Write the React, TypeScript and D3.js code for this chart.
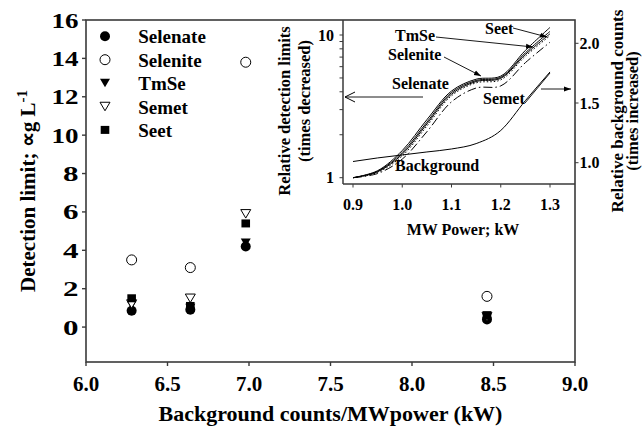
import React from "react";
import * as d3 from "d3";

// ---------- main scatter data ----------
const bgPerPower = [6.28, 6.64, 6.98, 8.46];
const selenate = [0.85, 0.9, 4.2, 0.4];
const selenite = [3.5, 3.1, 13.8, 1.6];
const tmse = [1.15, 1.0, 4.4, 0.5];
const semet = [1.2, 1.5, 5.9, 0.55];
const seet = [1.5, 1.1, 5.4, 0.62];
const xTicks = [6.0, 6.5, 7.0, 7.5, 8.0, 8.5, 9.0];
const yTicks = [0, 2, 4, 6, 8, 10, 12, 14, 16];

// ---------- inset data ----------
const mwPower = [0.9, 0.95, 1.0, 1.05, 1.1, 1.15, 1.2, 1.25, 1.3];
const relSeet = [1.0, 1.12, 1.55, 2.55, 4.05, 4.9, 5.15, 7.8, 11.3];
const relSelenite = [1.0, 1.11, 1.5, 2.45, 3.95, 4.8, 5.05, 7.5, 10.6];
const relTmSe = [1.0, 1.1, 1.46, 2.38, 3.85, 4.72, 4.97, 7.3, 10.2];
const relSelenate = [1.0, 1.09, 1.42, 2.3, 3.75, 4.62, 4.85, 7.1, 9.9];
const relSemet = [1.0, 1.07, 1.35, 2.1, 3.4, 4.25, 4.4, 6.4, 8.9];
const relBackground = [1.01, 1.04, 1.065, 1.09, 1.115, 1.16, 1.27, 1.52, 1.76];
const insetXTicks = [0.9, 1.0, 1.1, 1.2, 1.3];
const insetRightTicks = [1.0, 1.5, 2.0];

const FONT = "'Liberation Serif', 'Times New Roman', serif";
const AX = "#3a3a3a";

type Shape = "fcircle" | "ocircle" | "ftri" | "otri" | "fsquare";

function Marker({ shape, cx, cy }: { shape: Shape; cx: number; cy: number }) {
  if (shape === "fcircle") return <circle cx={cx} cy={cy} r={5} fill="#000" />;
  if (shape === "ocircle")
    return <circle cx={cx} cy={cy} r={5} fill="#fff" stroke="#000" strokeWidth={1} />;
  if (shape === "ftri" || shape === "otri") {
    const w = 5, h = 8.5;
    const p = `M${cx - w},${cy - h / 2}L${cx + w},${cy - h / 2}L${cx},${cy + h / 2}Z`;
    return shape === "ftri" ? (
      <path d={p} fill="#000" />
    ) : (
      <path d={p} fill="#fff" stroke="#000" strokeWidth={1} />
    );
  }
  return <rect x={cx - 4.3} y={cy - 4} width={8.6} height={8} fill="#000" />;
}

const series: { name: string; values: number[]; shape: Shape }[] = [
  { name: "Selenate", values: selenate, shape: "fcircle" },
  { name: "Selenite", values: selenite, shape: "ocircle" },
  { name: "TmSe", values: tmse, shape: "ftri" },
  { name: "Semet", values: semet, shape: "otri" },
  { name: "Seet", values: seet, shape: "fsquare" },
];

export default function App() {
  const W = 642, H = 428;
  const x = d3.scaleLinear().domain([6, 9]).range([86, 575]);
  const y = d3.scaleLinear().domain([-1.82, 16]).range([362, 20]);

  // inset
  const iL = 343, iR = 575, iT = 20, iB = 184;
  const ix = d3.scaleLinear().domain([0.9, 1.3]).range([353, 550]);
  const iyL = d3.scaleLog().domain([1, 10]).range([177.7, 35]);
  const iyR = d3.scaleLinear().domain([1.0, 2.0]).range([162.7, 43.3]);
  const logTicks = [1, 2, 3, 4, 5, 6, 7, 8, 9, 10];

  const lineL = d3
    .line<number>()
    .x((_, i) => ix(mwPower[i]))
    .y((d) => iyL(d))
    .curve(d3.curveCatmullRom.alpha(0.5));
  const lineR = d3
    .line<number>()
    .x((_, i) => ix(mwPower[i]))
    .y((d) => iyR(d))
    .curve(d3.curveMonotoneX);

  const insetCurves = [
    { v: relSeet, dash: undefined },
    { v: relSelenite, dash: undefined },
    { v: relTmSe, dash: undefined },
    { v: relSelenate, dash: "1.5,2" },
    { v: relSemet, dash: "9,3,1.5,3" },
  ];

  return (
    <svg width={W} height={H} style={{ display: "block", position: "absolute", left: 0, top: 0 }}>
      <defs>
        <marker id="ah" viewBox="0 0 10 10" refX="10" refY="5" markerWidth="7" markerHeight="7" orient="auto" markerUnits="userSpaceOnUse">
          <path d="M0,1.5L10,5L0,8.5Z" fill="#000" />
        </marker>
        <marker id="ao" viewBox="0 0 12 12" refX="11" refY="6" markerWidth="12" markerHeight="12" orient="auto" markerUnits="userSpaceOnUse">
          <path d="M1,1L11,6L1,11" fill="none" stroke="#000" strokeWidth={1} />
        </marker>
      </defs>
      <rect width={W} height={H} fill="#fff" />

      {/* main frame */}
      <rect x={86} y={20} width={575 - 86} height={362 - 20} fill="none" stroke={AX} strokeWidth={1.6} />

      {/* main y ticks */}
      {yTicks.map((t) => (
        <g key={"yt" + t}>
          <line x1={82} x2={86} y1={y(t)} y2={y(t)} stroke={AX} strokeWidth={1.4} />
          <text
            x={78.5}
            y={y(t) + 7.5}
            textAnchor="end"
            fontFamily={FONT}
            fontWeight="bold"
            fontSize={22}
            textLength={t >= 10 ? 27 : 15.5}
            lengthAdjust="spacingAndGlyphs"
          >
            {t}
          </text>
        </g>
      ))}
      {/* main x ticks */}
      {xTicks.map((t) => (
        <g key={"xt" + t}>
          <line x1={x(t)} x2={x(t)} y1={362} y2={366} stroke={AX} strokeWidth={1.4} />
          <text x={x(t)} y={390.5} textAnchor="middle" fontFamily={FONT} fontWeight="bold" fontSize={21}>
            {t.toFixed(1)}
          </text>
        </g>
      ))}

      {/* axis titles */}
      <text x={330.5} y={421} textAnchor="middle" fontFamily={FONT} fontWeight="bold" fontSize={22}>
        Background counts/MWpower (kW)
      </text>
      <text transform="translate(35,191) rotate(-90)" textAnchor="middle" fontFamily={FONT} fontWeight="bold" fontSize={21}>
        Detection limit; ∝g L<tspan dy={-8} fontSize={15}>-1</tspan>
      </text>

      {/* data points */}
      {series.map((s) =>
        s.values.map((v, i) => (
          <Marker key={s.name + i} shape={s.shape} cx={x(bgPerPower[i])} cy={y(v)} />
        ))
      )}

      {/* legend */}
      {series.map((s, i) => (
        <g key={"lg" + s.name}>
          <Marker shape={s.shape} cx={105} cy={36.3 + i * 23.4} />
          <text x={138.3} y={43.3 + i * 23.4} fontFamily={FONT} fontWeight="bold" fontSize={19}>
            {s.name}
          </text>
        </g>
      ))}

      {/* ---------- inset ---------- */}
      <line x1={iL} x2={iL} y1={iT} y2={iB} stroke={AX} strokeWidth={1.5} />
      <line x1={iL} x2={iR} y1={iB} y2={iB} stroke={AX} strokeWidth={1.5} />
      {logTicks.map((t) => (
        <line key={"lt" + t} x1={iL - 3.5} x2={iL} y1={iyL(t)} y2={iyL(t)} stroke={AX} strokeWidth={1} />
      ))}
      {[1, 10].map((t) => (
        <text key={"ll" + t} x={334} y={iyL(t) + 5.5} textAnchor="end" fontFamily={FONT} fontWeight="bold" fontSize={16}>
          {t}
        </text>
      ))}
      {insetXTicks.map((t) => (
        <g key={"ixt" + t}>
          <line x1={ix(t)} x2={ix(t)} y1={iB} y2={iB + 3.5} stroke={AX} strokeWidth={1} />
          <text x={ix(t)} y={210} textAnchor="middle" fontFamily={FONT} fontWeight="bold" fontSize={16}>
            {t.toFixed(1)}
          </text>
        </g>
      ))}
      {insetRightTicks.map((t) => (
        <g key={"irt" + t}>
          <line x1={iR} x2={iR + 3.5} y1={iyR(t)} y2={iyR(t)} stroke={AX} strokeWidth={1} />
          <text x={579.5} y={iyR(t) + 5.5} fontFamily={FONT} fontWeight="bold" fontSize={16}>
            {t.toFixed(1)}
          </text>
        </g>
      ))}
      <text x={463} y={235} textAnchor="middle" fontFamily={FONT} fontWeight="bold" fontSize={16}>
        MW Power; kW
      </text>
      <text transform="translate(290,111) rotate(-90)" textAnchor="middle" fontFamily={FONT} fontWeight="bold" fontSize={16.5}>
        Relative detection limits
      </text>
      <text transform="translate(309.5,101) rotate(-90)" textAnchor="middle" fontFamily={FONT} fontWeight="bold" fontSize={16.5}>
        (times decreased)
      </text>
      <text transform="translate(623,111) rotate(-90)" textAnchor="middle" fontFamily={FONT} fontWeight="bold" fontSize={17}>
        Relative background counts
      </text>
      <text transform="translate(638,111) rotate(-90)" textAnchor="middle" fontFamily={FONT} fontWeight="bold" fontSize={16.5}>
        (times increased)
      </text>

      {/* inset curves */}
      {insetCurves.map((c, i) => (
        <path key={"ic" + i} d={lineL(c.v) || ""} fill="none" stroke="#000" strokeWidth={1} strokeDasharray={c.dash} />
      ))}
      <path d={lineR(relBackground) || ""} fill="none" stroke="#000" strokeWidth={1} />

      {/* inset annotations */}
      <g fontFamily={FONT} fontWeight="bold" fontSize={16}>
        <text x={395} y={40.5}>TmSe</text>
        <text x={388} y={60}>Selenite</text>
        <text x={392} y={89}>Selenate</text>
        <text x={485} y={34}>Seet</text>
        <text x={483} y={103.5}>Semet</text>
        <text x={395} y={171}>Background</text>
      </g>
      <line x1={436} y1={37} x2={533} y2={47} stroke="#000" strokeWidth={0.9} markerEnd="url(#ah)" />
      <line x1={444} y1={57} x2={481} y2={76} stroke="#000" strokeWidth={0.9} markerEnd="url(#ah)" />
      <line x1={423} y1={97} x2={345} y2={97} stroke="#000" strokeWidth={0.9} markerEnd="url(#ao)" />
      <line x1={513} y1={28} x2={547} y2={37} stroke="#000" strokeWidth={0.9} markerEnd="url(#ah)" />
      <line x1={525} y1={103} x2={550} y2={73} stroke="#000" strokeWidth={0.9} />
      <line x1={541} y1={89} x2={571} y2={89} stroke="#000" strokeWidth={0.9} markerEnd="url(#ah)" />
    </svg>
  );
}
